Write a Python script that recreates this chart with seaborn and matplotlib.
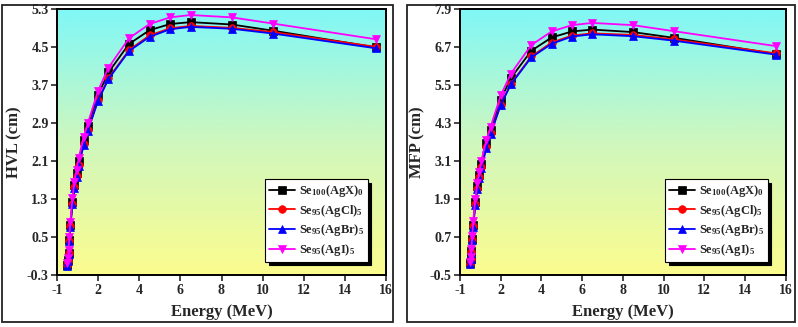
import numpy as np
import pandas as pd
import matplotlib
matplotlib.use("Agg")
import matplotlib.pyplot as plt
import seaborn as sns
from matplotlib.colors import LinearSegmentedColormap
from matplotlib.patches import Rectangle

sns.set_theme(style="white")
plt.rcParams['font.family'] = ['Liberation Serif', 'DejaVu Serif']
plt.rcParams['font.weight'] = 'bold'
plt.rcParams['mathtext.fontset'] = 'custom'
plt.rcParams['mathtext.rm'] = 'Liberation Serif:bold'
plt.rcParams['mathtext.it'] = 'Liberation Serif:bold:italic'
plt.rcParams['mathtext.bf'] = 'Liberation Serif:bold'

# ---- data (x positions as drawn on the energy axis) ----
energy = [0.5, 0.53, 0.56, 0.6, 0.65, 0.75, 0.85, 0.95, 1.05, 1.3, 1.5,
          2.0, 2.5, 3.5, 4.5, 5.5, 6.5, 8.5, 10.5, 15.5]

series_labels = [r'Se$_{100}$(AgX)$_{0}$', r'Se$_{95}$(AgCl)$_{5}$',
                 r'Se$_{95}$(AgBr)$_{5}$', r'Se$_{95}$(AgI)$_{5}$']

hvl_se100 = [-0.08, 0.02, 0.18, 0.45, 0.76, 1.25, 1.60, 1.86, 2.10, 2.55, 2.84,
             3.50, 3.97, 4.57, 4.86, 4.99, 5.03, 4.98, 4.85, 4.50]
hvl_agcl = [-0.09, 0.01, 0.16, 0.43, 0.73, 1.21, 1.55, 1.80, 2.03, 2.46, 2.76,
            3.39, 3.85, 4.44, 4.75, 4.90, 4.95, 4.91, 4.82, 4.51]
hvl_agbr = [-0.10, 0.00, 0.15, 0.42, 0.72, 1.20, 1.53, 1.78, 2.01, 2.44, 2.74,
            3.38, 3.83, 4.42, 4.72, 4.88, 4.93, 4.89, 4.79, 4.48]
hvl_agi = [-0.05, 0.06, 0.23, 0.51, 0.83, 1.32, 1.67, 1.92, 2.16, 2.62, 2.90,
           3.59, 4.07, 4.69, 4.99, 5.13, 5.18, 5.13, 5.00, 4.67]

mfp_se100 = [-0.12, 0.03, 0.26, 0.65, 1.10, 1.80, 2.31, 2.68, 3.03, 3.68, 4.10,
             5.05, 5.73, 6.59, 7.01, 7.20, 7.26, 7.18, 7.00, 6.49]
mfp_agcl = [-0.13, 0.01, 0.23, 0.62, 1.05, 1.75, 2.24, 2.60, 2.93, 3.55, 3.98,
            4.89, 5.55, 6.41, 6.85, 7.07, 7.14, 7.09, 6.95, 6.51]
mfp_agbr = [-0.14, 0.00, 0.22, 0.61, 1.04, 1.73, 2.21, 2.57, 2.90, 3.52, 3.95,
            4.88, 5.53, 6.38, 6.81, 7.04, 7.11, 7.05, 6.91, 6.47]
mfp_agi = [-0.07, 0.09, 0.33, 0.74, 1.20, 1.90, 2.41, 2.77, 3.12, 3.78, 4.18,
           5.18, 5.87, 6.77, 7.20, 7.40, 7.47, 7.40, 7.21, 6.74]

x_ticks = [0, 2, 4, 6, 8, 10, 12, 14, 16]
x_ticklabels = ['-1', '2', '4', '6', '8', '10', '12', '14', '16']
hvl_ticks = [-0.3, 0.5, 1.3, 2.1, 2.9, 3.7, 4.5, 5.3]
mfp_ticks = [-0.5, 0.7, 1.9, 3.1, 4.3, 5.5, 6.7, 7.9]

colors = ['black', 'red', '#0000FF', '#FF00FF']
markers = ['s', 'o', '^', 'v']

grad = LinearSegmentedColormap.from_list('bg', ['#FCFC8E', '#CFF7BE', '#80F7F7'])

fig = plt.figure(figsize=(7.98, 3.27), dpi=100)

# panel frames
for x0, w in [(2 / 798, 391 / 798), (407 / 798, 388 / 798)]:
    fig.patches.append(Rectangle((x0, 5 / 327), w, 317 / 327, transform=fig.transFigure,
                                 fill=False, edgecolor='#222222', linewidth=1.3))

ax1 = fig.add_axes([57 / 798, 51.7 / 327, 329 / 798, 266 / 327])
ax2 = fig.add_axes([460 / 798, 51.7 / 327, 325.7 / 798, 266 / 327])

panels = [
    (ax1, [hvl_se100, hvl_agcl, hvl_agbr, hvl_agi], hvl_ticks, 'HVL (cm)'),
    (ax2, [mfp_se100, mfp_agcl, mfp_agbr, mfp_agi], mfp_ticks, 'MFP (cm)'),
]

for ax, ys, yt, ylab in panels:
    ymin, ymax = yt[0], yt[-1]
    ax.imshow(np.linspace(0, 1, 256).reshape(-1, 1), cmap=grad, origin='lower',
              aspect='auto', extent=[0, 16, ymin, ymax], zorder=0)
    for yv, lab, c, m in zip(ys, series_labels, colors, markers):
        df = pd.DataFrame({'Energy': energy, 'val': yv})
        sns.lineplot(data=df, x='Energy', y='val', ax=ax, color=c, marker=m,
                     markersize=5.5, markeredgecolor=c, markeredgewidth=0.5,
                     linewidth=1.3, label=lab, sort=False, zorder=3)
    ax.set_xlim(0, 16)
    ax.set_ylim(ymin, ymax)
    ax.set_xticks(x_ticks)
    ax.set_xticklabels(x_ticklabels, fontsize=10, fontweight='bold')
    ax.set_yticks(yt)
    ax.set_yticklabels([f'{v:.1f}' for v in yt], fontsize=10, fontweight='bold')
    ax.tick_params(axis='both', direction='out', length=4, width=1.2,
                   pad=2, bottom=True, left=True, top=False, right=False)
    for s in ax.spines.values():
        s.set_linewidth(1.4)
        s.set_color('black')
    ax.set_xlabel('Energy (MeV)', fontsize=12, fontweight='bold', labelpad=5)
    ax.set_ylabel(ylab, fontsize=12, fontweight='bold', labelpad=3)
    leg = ax.legend(loc='lower right', bbox_to_anchor=(0.945, 0.05), frameon=True,
                    fancybox=False, shadow={'color': 'black', 'alpha': 1, 'ox': 2.5, 'oy': -2.5},
                    prop={'weight': 'bold', 'size': 9}, handlelength=2.1,
                    handletextpad=0.3, borderpad=0.3, labelspacing=0.3,
                    borderaxespad=0)
    leg.get_frame().set_edgecolor('black')
    leg.get_frame().set_linewidth(0.8)
    leg.get_frame().set_facecolor('white')
    leg.get_frame().set_alpha(1)

fig.savefig('out.png', dpi=100)
